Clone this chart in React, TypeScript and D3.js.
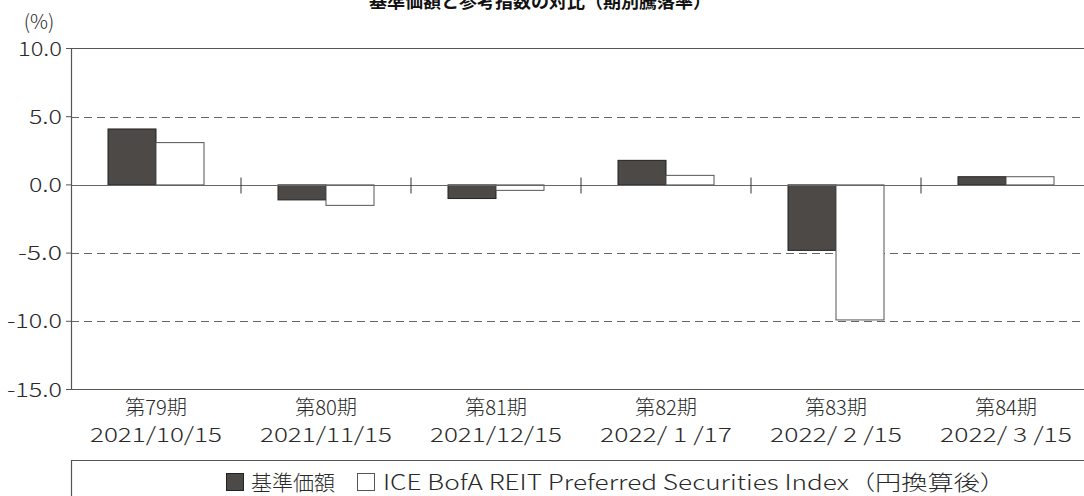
import React from 'react';
import * as d3 from 'd3';

// 期別騰落率 (%)
const periods = ['第79期', '第80期', '第81期', '第82期', '第83期', '第84期'];
const dates = ['2021/10/15', '2021/11/15', '2021/12/15', '2022/ 1 /17', '2022/ 2 /15', '2022/ 3 /15'];
const fundReturns = [4.1, -1.1, -1.0, 1.8, -4.8, 0.6];
const indexReturns = [3.1, -1.5, -0.4, 0.7, -9.9, 0.6];
const seriesNames = ['基準価額', 'ICE BofA REIT Preferred Securities Index（円換算後）'];
const yTicks = [10, 5, 0, -5, -10, -15];

const W = 1084;
const H = 496;
const FONT = '"Noto Sans CJK JP", "Noto Sans", sans-serif';
const DARK = '#4d4947';
const TXT = '#2a2a2a';

export default function App() {
  const left = 71;
  const right = 1091;
  const top = 48.5;
  const bottom = 389.5;

  const x = d3.scaleBand<string>().domain(periods).range([left, right]).padding(0);
  const y = d3.scaleLinear().domain([-15, 10]).range([bottom, top]);
  const bw = x.bandwidth();
  const inner = d3.scaleBand<string>().domain(['fund', 'index']).range([bw / 2 - 48, bw / 2 + 48]);

  const zero = Math.round(y(0)) + 0.5;

  return (
    <svg width={W} height={H} style={{ position: 'absolute', left: 0, top: 0, fontFamily: FONT }}>
      <rect width={W} height={H} fill="#fff" />
      <text x={540} y={8} textAnchor="middle" fontSize={18} fontWeight="bold" fill="#111">
        基準価額と参考指数の対比（期別騰落率）
      </text>
      <text x={39} y={29} textAnchor="middle" fontSize={20} fontWeight={300} fill={TXT}>(%)</text>

      {/* grid */}
      {[5, -5, -10].map(v => (
        <line key={v} x1={left} x2={W} y1={Math.round(y(v)) + 0.5} y2={Math.round(y(v)) + 0.5}
          stroke="#666" strokeWidth={1.2} strokeDasharray="8,5" />
      ))}

      {/* bars */}
      {periods.map((p, i) => {
        const x0 = x(p)!;
        const f = fundReturns[i];
        const r = indexReturns[i];
        return (
          <g key={p}>
            <rect x={x0 + inner('fund')!} width={inner.bandwidth()}
              y={Math.min(y(f), y(0))} height={Math.abs(y(f) - y(0))}
              fill={DARK} stroke="#222" strokeWidth={1} />
            <rect x={x0 + inner('index')!} width={inner.bandwidth()}
              y={Math.min(y(r), y(0))} height={Math.abs(y(r) - y(0))}
              fill="#fff" stroke="#555" strokeWidth={1} />
          </g>
        );
      })}

      {/* zero line + separators */}
      <line x1={left} x2={W} y1={zero} y2={zero} stroke="#666" strokeWidth={1} />
      {periods.slice(1).map(p => (
        <line key={p} x1={x(p)!} x2={x(p)!} y1={zero - 8} y2={zero + 8} stroke="#333" strokeWidth={1} />
      ))}

      {/* frame */}
      <path d={`M${W},${top}H${left + 0.5}V${bottom}H${W}`} fill="none" stroke="#555" strokeWidth={1.2} />

      {/* y axis */}
      {yTicks.map(v => {
        const s = v.toFixed(1);
        const len = s.length * 11;
        return (
          <g key={v} transform={`translate(0,${y(v)})`}>
            <line x1={left - 5} x2={left} stroke="#555" />
            <text x={62 - len} y={7} fontSize={20} fontWeight={300} fill={TXT}
              textLength={len} lengthAdjust="spacingAndGlyphs">
              {s}
            </text>
          </g>
        );
      })}

      {/* x labels */}
      {periods.map((p, i) => {
        const cx = x(p)! + bw / 2;
        return (
          <g key={p}>
            <text x={cx - 31} y={415} fontSize={20} fontWeight={300} fill={TXT}
              textLength={62} lengthAdjust="spacingAndGlyphs">{p}</text>
            <text x={cx - 66} y={442} fontSize={20} fontWeight={300} fill={TXT}
              textLength={132} lengthAdjust="spacingAndGlyphs" style={{ whiteSpace: 'pre' }}>
              {dates[i]}
            </text>
          </g>
        );
      })}

      {/* legend */}
      <path d={`M${W},460.5H${left + 0.5}V${H}`} fill="none" stroke="#555" strokeWidth={1.2} />
      <rect x={226.5} y={473.5} width={17} height={17} fill={DARK} stroke="#222" />
      <text x={251} y={490} fontSize={21} fontWeight={300} fill={TXT}
        textLength={84} lengthAdjust="spacingAndGlyphs">{seriesNames[0]}</text>
      <rect x={357.5} y={473.5} width={17} height={17} fill="#fff" stroke="#555" />
      <text x={383} y={490} fontSize={21} fontWeight={300} fill={TXT}
        textLength={623} lengthAdjust="spacingAndGlyphs">{seriesNames[1]}</text>
    </svg>
  );
}
